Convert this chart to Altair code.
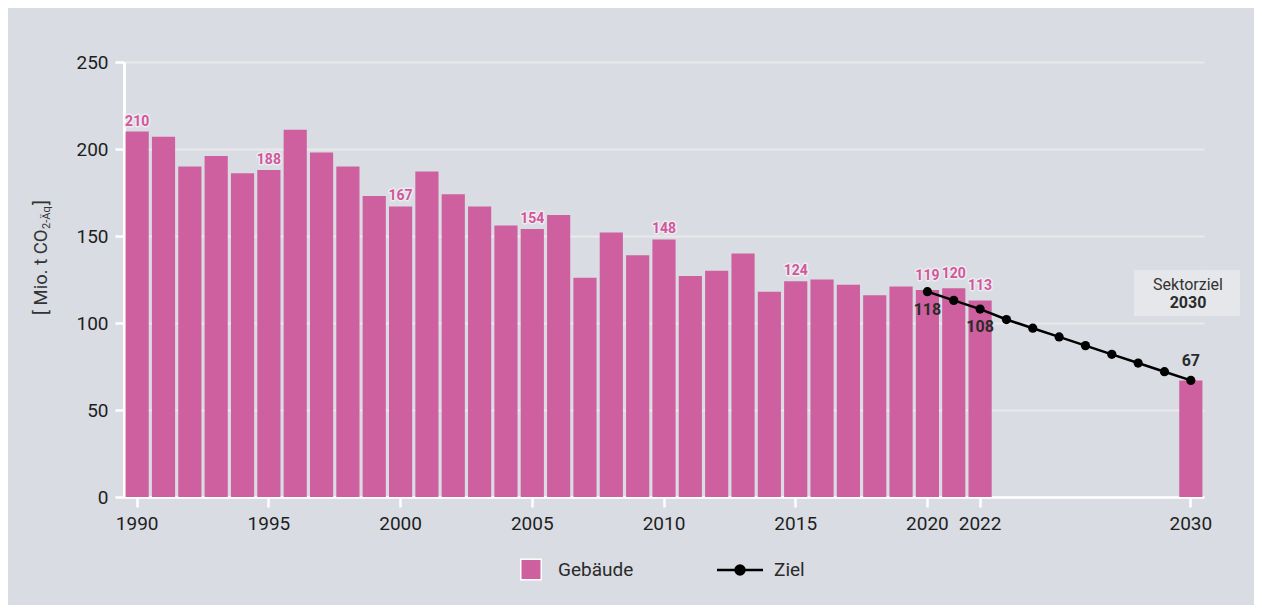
import altair as alt
import pandas as pd

# ---- data ----
bar_years = list(range(1990, 2023)) + [2030]
bar_values = [210, 207, 190, 196, 186, 188, 211, 198, 190, 173,
              167, 187, 174, 167, 156, 154, 162, 126, 152, 139,
              148, 127, 130, 140, 118, 124, 125, 122, 116, 121,
              119, 120, 113, 67]
label_years = [1990, 1995, 2000, 2005, 2010, 2015, 2020, 2021, 2022]

ziel_years = list(range(2020, 2031))
ziel_values = [118, 113, 108, 102, 97, 92, 87, 82, 77, 72, 67]
ziel_label_below = [2020, 2022]
ziel_label_above = [2030]

all_years = list(range(1990, 2031))
x_tick_values = [1990, 1995, 2000, 2005, 2010, 2015, 2020, 2022, 2030]
y_tick_values = [0, 50, 100, 150, 200, 250]

PINK = "#cf60a0"
LABEL_PINK = "#d2569d"
BG = "#d9dce3"
DARK = "#2b2b2b"
FONT = "Roboto"

bars_df = pd.DataFrame({"year": bar_years, "value": bar_values})
labels_df = bars_df[bars_df["year"].isin(label_years)].copy()
ziel_df = pd.DataFrame({"year": ziel_years, "value": ziel_values})
one = pd.DataFrame({"a": [0]})

x_enc = alt.X(
    "year:O",
    scale=alt.Scale(domain=all_years, paddingInner=0.12, paddingOuter=0.06),
    axis=alt.Axis(values=x_tick_values, title=None, labelAngle=0,
                  labelFontSize=19, labelColor="#1e1e1e", labelPadding=7,
                  tickColor="white", tickSize=10, tickWidth=2.5,
                  domainColor="white", domainWidth=2.5, grid=False),
)
y_enc = alt.Y(
    "value:Q",
    scale=alt.Scale(domain=[0, 250], nice=False),
    axis=alt.Axis(values=y_tick_values, title=None,
                  labelFontSize=19, labelColor="#1e1e1e", labelPadding=7,
                  tickColor="white", tickSize=9, tickWidth=2.5,
                  domainColor="white", domainWidth=3,
                  grid=True, gridColor="#e9e9ec", gridWidth=2),
)

bars = alt.Chart(bars_df).mark_bar(color=PINK).encode(x=x_enc, y=y_enc)

lab_base = alt.Chart(labels_df).encode(x="year:O", y="value:Q", text="value:Q")
lab_early = lab_base.transform_filter("datum.year < 2020")
lab_late = lab_base.transform_filter("datum.year >= 2020")
txt_kw = dict(font=FONT, fontSize=14, fontWeight="bold", baseline="alphabetic")
halo_kw = dict(stroke="#ececef", strokeWidth=3, strokeJoin="round", color="#ececef")
bar_labels = (
    lab_early.mark_text(dy=-6, **txt_kw, **halo_kw)
    + lab_early.mark_text(dy=-6, color=LABEL_PINK, **txt_kw)
    + lab_late.mark_text(dy=-10, **txt_kw, **halo_kw)
    + lab_late.mark_text(dy=-10, color=LABEL_PINK, **txt_kw)
)

ziel_line = alt.Chart(ziel_df).mark_line(color="black", strokeWidth=2.5).encode(
    x="year:O", y="value:Q")
ziel_pts = alt.Chart(ziel_df).mark_point(filled=True, color="black", size=85, opacity=1).encode(
    x="year:O", y="value:Q")
zl_base = alt.Chart(ziel_df).encode(x="year:O", y="value:Q", text="value:Q")
ziel_labels = (
    zl_base.transform_filter(alt.FieldOneOfPredicate(field="year", oneOf=ziel_label_below))
    .mark_text(dy=18, font=FONT, fontSize=16, fontWeight="bold", color=DARK, baseline="middle")
    + zl_base.transform_filter(alt.FieldOneOfPredicate(field="year", oneOf=ziel_label_above))
    .mark_text(dy=-19, font=FONT, fontSize=16, fontWeight="bold", color=DARK, baseline="middle")
)

# Sektorziel box
box = alt.Chart(one).mark_rect(color="#e6e7eb").encode(
    x=alt.value(1010), x2=alt.value(1116), y=alt.value(208), y2=alt.value(254))
box_t1 = alt.Chart(one).mark_text(text="Sektorziel", font=FONT, fontSize=16, color="#333333",
                                  baseline="middle").encode(x=alt.value(1064), y=alt.value(223))
box_t2 = alt.Chart(one).mark_text(text="2030", font=FONT, fontSize=16, fontWeight="bold",
                                  color=DARK, baseline="middle").encode(x=alt.value(1064), y=alt.value(241))

# y title with subscript
yt1 = alt.Chart(one).mark_text(text="[ Mio. t CO", font=FONT, fontSize=18.5, color="#333333",
                               angle=270, align="left", baseline="middle").encode(
    x=alt.value(-83), y=alt.value(253))
yt2 = alt.Chart(one).mark_text(text="2-Äq", font=FONT, fontSize=11, color="#333333",
                               angle=270, align="left", baseline="middle").encode(
    x=alt.value(-77), y=alt.value(167))
yt3 = alt.Chart(one).mark_text(text="]", font=FONT, fontSize=18.5, color="#333333",
                               angle=270, align="left", baseline="middle").encode(
    x=alt.value(-83), y=alt.value(143))

# legend
leg_sq = alt.Chart(one).mark_square(size=420, color=PINK, opacity=1, stroke="white",
                                    strokeWidth=1.5).encode(x=alt.value(407), y=alt.value(507.5))
leg_t1 = alt.Chart(one).mark_text(text="Gebäude", font=FONT, fontSize=19, color="#2a2a2a",
                                  align="left", baseline="middle").encode(x=alt.value(434), y=alt.value(508))
leg_line = alt.Chart(one).mark_rule(color="black", strokeWidth=2.5).encode(
    x=alt.value(593), x2=alt.value(639), y=alt.value(508))
leg_dot = alt.Chart(one).mark_point(filled=True, color="black", size=130, opacity=1).encode(
    x=alt.value(616), y=alt.value(508))
leg_t2 = alt.Chart(one).mark_text(text="Ziel", font=FONT, fontSize=19, color="#2a2a2a",
                                  align="left", baseline="middle").encode(x=alt.value(650), y=alt.value(508))

chart = alt.layer(
    bars, bar_labels, ziel_line, ziel_pts, ziel_labels,
    box, box_t1, box_t2, yt1, yt2, yt3,
    leg_sq, leg_t1, leg_line, leg_dot, leg_t2,
).properties(
    width=1080, height=435,
    padding={"left": 116, "top": 54, "right": 50, "bottom": 108},
    autosize=alt.AutoSizeParams(type="none"),
    background=BG,
).configure_view(stroke=None).configure(font=FONT)

chart.save("out.html", embed_options={"renderer": "svg", "actions": False})
